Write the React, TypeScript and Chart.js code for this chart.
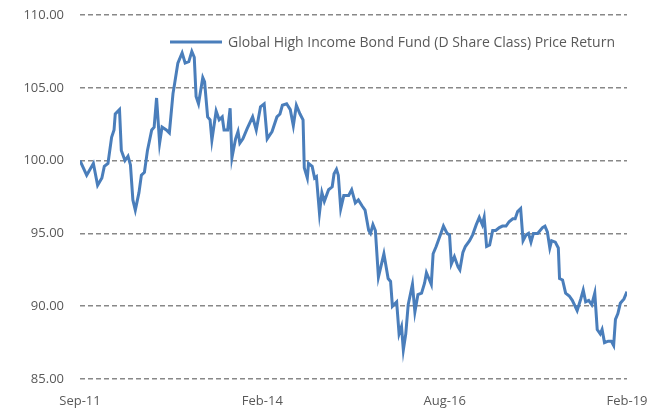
import React, { useEffect, useRef } from "react";
import { Chart, registerables } from "chart.js";

Chart.register(...registerables);

// x = months-equivalent position from Sep-11 (axis spans 0..90)
const xPositions: number[] = [
  0.0, 1.1, 2.2, 2.9, 3.6, 4.0, 4.6, 5.2, 5.6, 5.8, 6.5, 6.8, 7.4, 7.9, 8.3, 8.7, 9.1, 9.7, 10.1, 10.6,
  11.1, 11.8, 12.2, 12.6, 13.1, 13.5, 14.2, 14.7, 15.3, 15.5, 16.1, 16.8, 17.3, 17.9, 18.4, 18.8, 19.1, 19.5, 20.2, 20.5,
  21.0, 21.4, 21.7, 22.4, 22.9, 23.4, 23.7, 24.3, 24.7, 25.0, 25.6, 26.0, 26.3, 26.8, 27.5, 28.4, 29.0, 29.7, 30.3, 30.8,
  31.6, 32.4, 32.9, 33.3, 34.0, 34.6, 35.1, 35.6, 36.2, 36.7, 36.9, 37.4, 37.6, 38.2, 38.6, 38.9, 39.4, 39.8, 40.2, 40.9,
  41.5, 41.8, 42.2, 42.5, 42.9, 43.4, 44.2, 44.7, 45.3, 45.8, 46.4, 46.9, 47.5, 47.8, 48.2, 48.6, 49.1, 50.0, 50.7, 51.1,
  51.4, 52.1, 52.5, 52.9, 53.2, 53.6, 54.0, 54.7, 55.1, 55.6, 56.2, 56.7, 57.0, 57.4, 57.8, 58.1, 58.6, 59.3, 59.8, 60.4,
  60.8, 61.1, 61.6, 62.2, 62.5, 63.0, 63.4, 64.1, 64.6, 65.2, 65.7, 66.2, 66.5, 66.9, 67.4, 67.9, 68.4, 69.0, 69.5, 70.1,
  70.6, 71.2, 71.6, 72.0, 72.5, 72.9, 73.4, 73.8, 74.2, 74.6, 75.3, 76.1, 76.5, 76.9, 77.3, 77.6, 78.2, 78.7, 78.9, 79.4,
  79.9, 80.5, 81.0, 81.8, 82.4, 82.8, 83.2, 83.7, 84.2, 84.7, 85.1, 85.6, 85.9, 86.3, 86.9, 87.4, 87.8, 88.1, 88.5, 88.9,
  89.5, 90.0,
];

const priceReturn: number[] = [
  100.0, 99.0, 99.8, 98.3, 98.8, 99.6, 99.8, 101.6, 102.1, 103.2, 103.5, 100.7, 100.0, 100.3, 99.7, 97.3, 96.6, 97.8, 99.0, 99.2,
  100.7, 102.1, 102.3, 104.3, 101.2, 102.3, 102.1, 101.9, 104.6, 105.1, 106.7, 107.4, 106.7, 106.8, 107.5, 107.1, 104.4, 103.9, 105.7, 105.4,
  103.0, 102.8, 101.4, 103.4, 102.8, 103.0, 102.1, 102.1, 103.6, 100.2, 101.5, 102.0, 101.2, 101.5, 102.2, 103.0, 102.1, 103.7, 103.9, 101.5,
  102.0, 103.0, 103.2, 103.8, 103.9, 103.5, 102.4, 103.8, 103.2, 102.8, 99.5, 98.8, 99.8, 99.6, 98.8, 98.9, 96.4, 97.8, 97.2, 98.0,
  98.2, 99.1, 99.4, 99.0, 96.7, 97.6, 97.6, 98.0, 97.1, 97.3, 96.9, 96.6, 95.2, 95.0, 95.6, 95.2, 92.0, 93.6, 91.9, 91.7,
  90.0, 90.3, 88.1, 88.6, 87.0, 88.1, 90.1, 91.5, 89.6, 90.8, 90.9, 91.6, 92.3, 91.9, 91.5, 93.6, 94.1, 94.9, 95.5, 95.0,
  94.9, 92.9, 93.4, 92.7, 92.5, 93.7, 94.1, 94.5, 94.9, 95.6, 96.1, 95.6, 96.1, 94.1, 94.2, 95.2, 95.2, 95.4, 95.5, 95.5,
  95.8, 96.0, 96.0, 96.5, 96.7, 94.5, 94.9, 95.0, 94.4, 95.0, 95.0, 95.4, 95.5, 95.1, 94.0, 94.5, 94.4, 94.0, 91.9, 91.8,
  90.9, 90.7, 90.4, 89.7, 90.5, 91.1, 90.3, 90.4, 90.1, 90.9, 88.4, 88.1, 88.4, 87.5, 87.6, 87.6, 87.3, 89.1, 89.5, 90.2,
  90.5, 91.0,
];

const xTickValues: number[] = [0, 30, 60, 90];
const xTickLabels: string[] = ["Sep-11", "Feb-14", "Aug-16", "Feb-19"];
const seriesLabel = "Global High Income Bond Fund (D Share Class) Price Return";

const FONT = "'Open Sans', Lato, sans-serif";
const LINE_COLOR = "#4A7EBB";
const TEXT_COLOR = "#595959";

const legendPlugin = {
  id: "insideLegend",
  afterDraw(chart: any) {
    const { ctx, chartArea } = chart;
    const y = chartArea.top + 27;
    const x0 = chartArea.left + 90;
    ctx.save();
    ctx.strokeStyle = LINE_COLOR;
    ctx.lineWidth = 3;
    ctx.beginPath();
    ctx.moveTo(x0, y);
    ctx.lineTo(x0 + 52, y);
    ctx.stroke();
    ctx.fillStyle = TEXT_COLOR;
    ctx.font = `14px ${FONT}`;
    ctx.textBaseline = "middle";
    ctx.fillText(seriesLabel, x0 + 58, y + 1);
    ctx.restore();
  },
};

export default function App() {
  const ref = useRef<HTMLCanvasElement | null>(null);
  useEffect(() => {
    if (!ref.current) return;
    const data = xPositions.map((x, i) => ({ x, y: priceReturn[i] }));
    const chart = new Chart(ref.current, {
      type: "line",
      data: {
        datasets: [
          {
            label: seriesLabel,
            data,
            borderColor: LINE_COLOR,
            borderWidth: 3,
            pointRadius: 0,
            tension: 0,
            fill: false,
          },
        ],
      },
      options: {
        animation: false,
        responsive: false,
        maintainAspectRatio: false,
        layout: { padding: { left: 0, right: 22, top: 15, bottom: 0 } },
        plugins: { legend: { display: false }, tooltip: { enabled: false } },
        scales: {
          x: {
            type: "linear",
            min: 0,
            max: 90,
            grid: { display: false },
            border: { display: false },
            afterBuildTicks(axis: any) {
              axis.ticks = xTickValues.map((v) => ({ value: v }));
            },
            afterFit(axis: any) {
              axis.height = 29;
              axis.paddingLeft = 0;
              axis.paddingRight = 0;
            },
            ticks: {
              color: TEXT_COLOR,
              font: { family: FONT, size: 13 },
              maxRotation: 0,
              autoSkip: false,
              padding: 6,
              callback: (v: any) => {
                const i = xTickValues.indexOf(Number(v));
                return i >= 0 ? xTickLabels[i] : "";
              },
            },
          },
          y: {
            min: 85,
            max: 110,
            border: { display: false, dash: [5, 3] },
            afterFit(axis: any) {
              axis.width = 80;
              axis.paddingTop = 0;
              axis.paddingBottom = 0;
            },
            grid: {
              color: "#888888",
              lineWidth: 1.5,
              drawTicks: false,
            },
            ticks: {
              stepSize: 5,
              color: TEXT_COLOR,
              font: { family: FONT, size: 13 },
              padding: 16,
              callback: (v: any) => Number(v).toFixed(2),
            },
          },
        },
      },
      plugins: [legendPlugin],
    });
    return () => chart.destroy();
  }, []);
  return (
    <div style={{ position: "fixed", left: 0, top: 0, width: 649, height: 408, background: "#fff" }}>
      <canvas ref={ref} width={649} height={408} style={{ width: 649, height: 408 }} />
    </div>
  );
}
